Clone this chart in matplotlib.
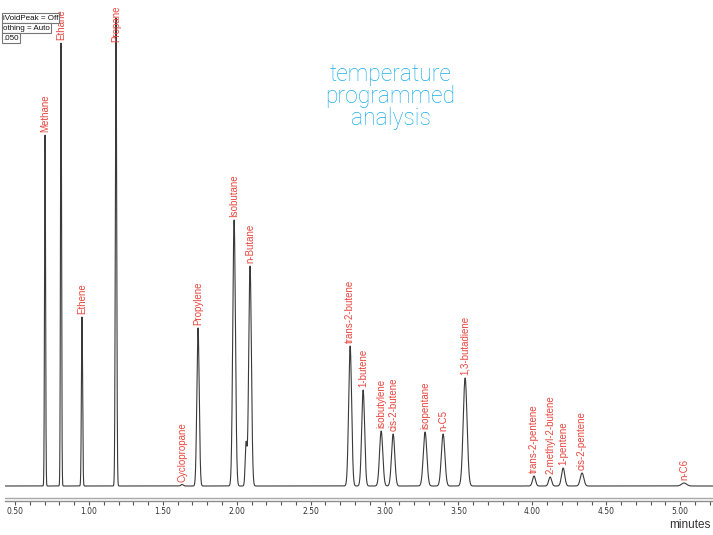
import numpy as np
import matplotlib
matplotlib.use("Agg")
import matplotlib.pyplot as plt
from matplotlib.ticker import MultipleLocator, FormatStrFormatter

# ----- peak table (retention time in min, height, sigma in min) -----
names = ["Methane", "Ethane", "Ethene", "Propane", "Cyclopropane", "Propylene",
         "", "Isobutane", "n-Butane", "trans-2-butene", "1-butene", "isobutylene",
         "cis-2-butene", "isopentane", "n-C5", "1,3-butadiene", "trans-2-pentene",
         "2-methyl-2-butene", "1-pentene", "cis-2-pentene", "n-C6"]
rt = [0.703, 0.811, 0.953, 1.183, 1.630, 1.738,
      2.063, 1.982, 2.090, 2.767, 2.855, 2.977,
      3.058, 3.274, 3.396, 3.545, 4.011,
      4.120, 4.208, 4.336, 5.026]
height = [351, 443, 169, 468, 1.5, 158,
          42, 266, 220, 140, 96, 55,
          52, 54, 52, 108, 10,
          9, 18, 13, 3]
sigma = [0.0035, 0.0035, 0.004, 0.0045, 0.008, 0.008,
         0.006, 0.009, 0.009, 0.010, 0.010, 0.011,
         0.011, 0.012, 0.012, 0.013, 0.010,
         0.010, 0.011, 0.012, 0.017]

settings = ["iVoidPeak = Off", "othing = Auto", ".050"]

XMIN, XMAX = 0.432, 5.222
YMIN, YMAX = -15, 486

# --- build trace ---
t = np.linspace(XMIN, XMAX, 20000)
signal = np.zeros_like(t)
for r, h, s in zip(rt, height, sigma):
    signal += h * np.exp(-0.5 * ((t - r) / s) ** 2)

# --- figure ---
fig = plt.figure(figsize=(7.13, 5.35), dpi=100)
ax = fig.add_axes([5 / 713, 34 / 535, 708 / 713, 501 / 535])
ax.plot(t, signal, color="#3a3a3a", lw=0.8)
ax.set_xlim(XMIN, XMAX)
ax.set_ylim(YMIN, YMAX)

for sp in ["top", "right", "left"]:
    ax.spines[sp].set_visible(False)
ax.spines["bottom"].set_color("#8c8c8c")
ax.spines["bottom"].set_linewidth(1.0)
ax.axhline(YMIN + 2.6, color="#a8a8a8", lw=1.0)
ax.set_yticks([])

ax.xaxis.set_major_locator(MultipleLocator(0.5))
ax.xaxis.set_minor_locator(MultipleLocator(0.1))
ax.xaxis.set_major_formatter(FormatStrFormatter("%.2f"))
ax.tick_params(axis="x", which="both", direction="out", color="#555555",
               length=3, width=0.8, labelsize=5.5, labelcolor="#333333", pad=1.5)

# --- peak labels ---
red = "#e8463e"
lab_font = dict(family=["Liberation Sans", "DejaVu Sans"], size=7)
for n, r, h in zip(names, rt, height):
    if not n:
        continue
    if h > 450:
        # off-scale peak: label pinned to the top
        ax.text(r, YMAX - 5, n, rotation=90, ha="center", va="top",
                color=red, fontdict=lab_font)
    else:
        ax.text(r, h + 3, n, rotation=90, ha="center", va="bottom",
                color=red, fontdict=lab_font)

# --- annotation ---
ax.text(0.5445, 0.808, "temperature\nprogrammed\nanalysis", transform=ax.transAxes,
        ha="center", va="center", color="#1aaeea", fontsize=16.5,
        family=["Roboto", "DejaVu Sans"], fontweight="light", linespacing=0.95)

fig.text(0.968, 0.008, "minutes", ha="center", va="bottom", color="#333333",
         fontsize=8.5, family=["Liberation Sans", "DejaVu Sans"])

# --- settings boxes (top left, cut at edge) ---
for i, s in enumerate(settings):
    fig.text(0.004, 1 - (18 + i * 10) / 535, s, ha="left", va="center",
             fontsize=5.8, color="#111111", family=["Liberation Sans", "DejaVu Sans"],
             bbox=dict(boxstyle="square,pad=0.15", fc="white", ec="#777777", lw=0.8))

fig.savefig("out.png", dpi=100)
